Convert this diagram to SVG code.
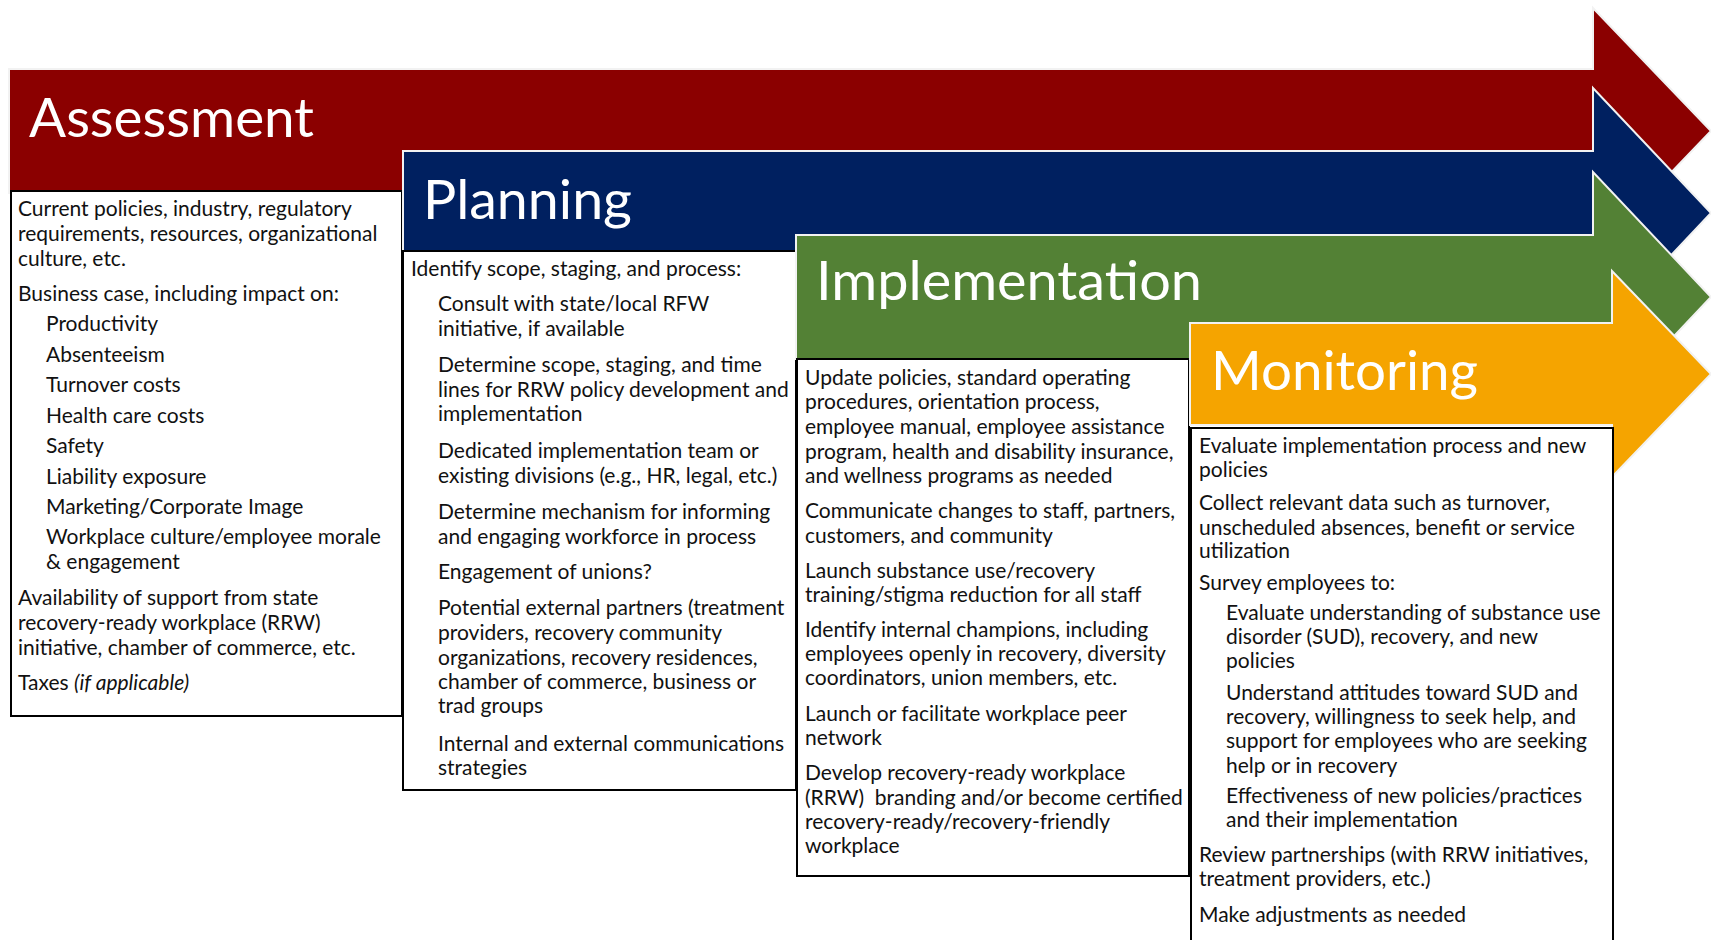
<svg xmlns="http://www.w3.org/2000/svg" width="1711" height="940" viewBox="0 0 1711 940">
<style>
.arrow{stroke:#f2f2f2;stroke-width:2;stroke-linejoin:miter}
.box{fill:#ffffff;stroke:#000000;stroke-width:2}
.h{font-family:Lato,"Open Sans",sans-serif;font-size:54px;fill:#ffffff}
.t{font-family:Lato,"Open Sans",sans-serif;font-size:21px;fill:#111111;white-space:pre}
</style>
<rect x="0" y="0" width="1711" height="940" fill="#ffffff"/>
<g id="assessment">
<polygon class="arrow" fill="#8b0000" points="9,69 1593,69 1593,8 1711,131 1593,254 1593,193 9,193"/>
<text class="h" x="29" y="137" textLength="285" lengthAdjust="spacingAndGlyphs">Assessment</text>
<rect class="box" x="11" y="191" width="391" height="525"/>
<text class="t" x="18" y="216">Current policies, industry, regulatory</text>
<text class="t" x="18" y="241">requirements, resources, organizational</text>
<text class="t" x="18" y="266">culture, etc.</text>
<text class="t" x="18" y="301">Business case, including impact on:</text>
<text class="t" x="46" y="331">Productivity</text>
<text class="t" x="46" y="362">Absenteeism</text>
<text class="t" x="46" y="392">Turnover costs</text>
<text class="t" x="46" y="423">Health care costs</text>
<text class="t" x="46" y="453">Safety</text>
<text class="t" x="46" y="484">Liability exposure</text>
<text class="t" x="46" y="514">Marketing/Corporate Image</text>
<text class="t" x="46" y="544">Workplace culture/employee morale</text>
<text class="t" x="46" y="569">&amp; engagement</text>
<text class="t" x="18" y="605">Availability of support from state</text>
<text class="t" x="18" y="630">recovery-ready workplace (RRW)</text>
<text class="t" x="18" y="655">initiative, chamber of commerce, etc.</text>
<text class="t" x="18" y="690">Taxes <tspan font-style="italic">(if applicable)</tspan></text>
</g>
<g id="planning">
<polygon class="arrow" fill="#002060" points="403,151 1593,151 1593,88 1711,213 1593,338 1593,275 403,275"/>
<text class="h" x="423" y="219" textLength="209" lengthAdjust="spacingAndGlyphs">Planning</text>
<rect class="box" x="403" y="251" width="393" height="539"/>
<text class="t" x="411" y="276">Identify scope, staging, and process:</text>
<text class="t" x="438" y="311">Consult with state/local RFW</text>
<text class="t" x="438" y="336">initiative, if available</text>
<text class="t" x="438" y="372">Determine scope, staging, and time</text>
<text class="t" x="438" y="397">lines for RRW policy development and</text>
<text class="t" x="438" y="421">implementation</text>
<text class="t" x="438" y="458">Dedicated implementation team or</text>
<text class="t" x="438" y="483">existing divisions (e.g., HR, legal, etc.)</text>
<text class="t" x="438" y="519">Determine mechanism for informing</text>
<text class="t" x="438" y="544">and engaging workforce in process</text>
<text class="t" x="438" y="579">Engagement of unions?</text>
<text class="t" x="438" y="615">Potential external partners (treatment</text>
<text class="t" x="438" y="640">providers, recovery community</text>
<text class="t" x="438" y="665">organizations, recovery residences,</text>
<text class="t" x="438" y="689">chamber of commerce, business or</text>
<text class="t" x="438" y="713">trad groups</text>
<text class="t" x="438" y="751">Internal and external communications</text>
<text class="t" x="438" y="775">strategies</text>
</g>
<g id="implementation">
<polygon class="arrow" fill="#538135" points="796,235 1593,235 1593,172 1711,297 1593,422 1593,359 796,359"/>
<text class="h" x="816" y="300" textLength="386" lengthAdjust="spacingAndGlyphs">Implementation</text>
<rect class="box" x="797" y="359" width="392" height="517"/>
<text class="t" x="805" y="385">Update policies, standard operating</text>
<text class="t" x="805" y="409">procedures, orientation process,</text>
<text class="t" x="805" y="434">employee manual, employee assistance</text>
<text class="t" x="805" y="459">program, health and disability insurance,</text>
<text class="t" x="805" y="483">and wellness programs as needed</text>
<text class="t" x="805" y="518">Communicate changes to staff, partners,</text>
<text class="t" x="805" y="543">customers, and community</text>
<text class="t" x="805" y="578">Launch substance use/recovery</text>
<text class="t" x="805" y="602">training/stigma reduction for all staff</text>
<text class="t" x="805" y="637">Identify internal champions, including</text>
<text class="t" x="805" y="661">employees openly in recovery, diversity</text>
<text class="t" x="805" y="685">coordinators, union members, etc.</text>
<text class="t" x="805" y="721">Launch or facilitate workplace peer</text>
<text class="t" x="805" y="745">network</text>
<text class="t" x="805" y="780">Develop recovery-ready workplace</text>
<text class="t" x="805" y="805">(RRW)  branding and/or become certified</text>
<text class="t" x="805" y="829">recovery-ready/recovery-friendly</text>
<text class="t" x="805" y="853">workplace</text>
</g>
<g id="monitoring">
<polygon class="arrow" fill="#f5a400" points="1190,323 1612,323 1612,271 1711,374 1612,477 1612,425 1190,425"/>
<text class="h" x="1211" y="390" textLength="267" lengthAdjust="spacingAndGlyphs">Monitoring</text>
<rect class="box" x="1191" y="428" width="422" height="530"/>
<text class="t" x="1199" y="453">Evaluate implementation process and new</text>
<text class="t" x="1199" y="477">policies</text>
<text class="t" x="1199" y="510">Collect relevant data such as turnover,</text>
<text class="t" x="1199" y="535">unscheduled absences, benefit or service</text>
<text class="t" x="1199" y="558">utilization</text>
<text class="t" x="1199" y="590">Survey employees to:</text>
<text class="t" x="1226" y="620">Evaluate understanding of substance use</text>
<text class="t" x="1226" y="644">disorder (SUD), recovery, and new</text>
<text class="t" x="1226" y="668">policies</text>
<text class="t" x="1226" y="700">Understand attitudes toward SUD and</text>
<text class="t" x="1226" y="724">recovery, willingness to seek help, and</text>
<text class="t" x="1226" y="748">support for employees who are seeking</text>
<text class="t" x="1226" y="773">help or in recovery</text>
<text class="t" x="1226" y="803">Effectiveness of new policies/practices</text>
<text class="t" x="1226" y="827">and their implementation</text>
<text class="t" x="1199" y="862">Review partnerships (with RRW initiatives,</text>
<text class="t" x="1199" y="886">treatment providers, etc.)</text>
<text class="t" x="1199" y="922">Make adjustments as needed</text>
</g>
<g id="connectors"></g>
</svg>
